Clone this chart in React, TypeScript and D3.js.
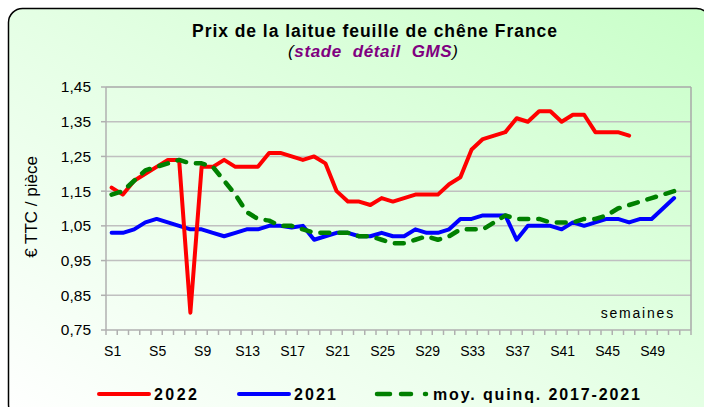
import React, { useEffect } from "react";
import * as d3 from "d3";

const weeks: string[] = Array.from({ length: 52 }, (_, i) => `S${i + 1}`);
const tickLabels: string[] = ["S1", "S5", "S9", "S13", "S17", "S21", "S25", "S29", "S33", "S37", "S41", "S45", "S49"];
const yTicks: number[] = [0.75, 0.85, 0.95, 1.05, 1.15, 1.25, 1.35, 1.45];

const series2022: number[] = [
  1.16, 1.14, 1.18, 1.2, 1.22, 1.24, 1.24, 0.8, 1.22, 1.22, 1.24, 1.22, 1.22, 1.22, 1.26, 1.26,
  1.25, 1.24, 1.25, 1.23, 1.15, 1.12, 1.12, 1.11, 1.13, 1.12, 1.13, 1.14, 1.14, 1.14, 1.17, 1.19,
  1.27, 1.3, 1.31, 1.32, 1.36, 1.35, 1.38, 1.38, 1.35, 1.37, 1.37, 1.32, 1.32, 1.32, 1.31,
];
const series2021: number[] = [
  1.03, 1.03, 1.04, 1.06, 1.07, 1.06, 1.05, 1.04, 1.04, 1.03, 1.02, 1.03, 1.04, 1.04, 1.05, 1.05,
  1.045, 1.05, 1.01, 1.02, 1.03, 1.03, 1.02, 1.02, 1.03, 1.02, 1.02, 1.04, 1.03, 1.03, 1.04, 1.07,
  1.07, 1.08, 1.08, 1.08, 1.01, 1.05, 1.05, 1.05, 1.04, 1.06, 1.05, 1.06, 1.07, 1.07, 1.06, 1.07,
  1.07, 1.1, 1.13,
];
const seriesAvg: number[] = [
  1.14, 1.15, 1.18, 1.21, 1.22, 1.23, 1.24, 1.23, 1.23, 1.22, 1.18, 1.14, 1.09, 1.07, 1.065, 1.05,
  1.05, 1.04, 1.03, 1.03, 1.03, 1.03, 1.02, 1.02, 1.01, 1.0, 1.0, 1.01, 1.02, 1.01, 1.02, 1.04,
  1.04, 1.04, 1.06, 1.08, 1.07, 1.07, 1.07, 1.06, 1.06, 1.06, 1.07, 1.07, 1.08, 1.1, 1.11, 1.12,
  1.13, 1.14, 1.15,
];

const W = 704;
const H = 407;
const FONT = "'Liberation Sans', Arial, sans-serif";

export default function App() {
  useEffect(() => {
    document.body.style.margin = "0";
  }, []);

  const left = 106, right = 691, top = 87, bottom = 330;
  const x = d3.scaleBand<string>().domain(weeks).range([left, right]).padding(0);
  const y = d3.scaleLinear().domain([0.75, 1.45]).range([bottom, top]);
  const cx = (i: number) => (x(weeks[i]) as number) + x.bandwidth() / 2;
  const line = d3
    .line<number>()
    .x((_, i) => cx(i))
    .y((d) => y(d));
  const fmt = (v: number) => d3.format(".2f")(v).replace(".", ",");

  return (
    <svg width={W} height={H} style={{ position: "absolute", left: 0, top: 0 }} fontFamily={FONT}>
      <defs>
        <linearGradient id="bg" x1="0" y1="1" x2="1" y2="0">
          <stop offset="0" stopColor="#ffffff" />
          <stop offset="0.55" stopColor="#e2ffe2" />
          <stop offset="1" stopColor="#c8ffc8" />
        </linearGradient>
      </defs>
      <rect x={8.5} y={8.5} width={702} height={410} rx={14} ry={14} fill="url(#bg)" stroke="#000" strokeWidth={1.5} />

      <text x={192} y={36.5} fontSize={17.5} fontWeight="bold" fill="#000" textLength={365} lengthAdjust="spacing">
        Prix de la laitue feuille de chêne France
      </text>
      <text x={288} y={57} fontSize={17} fontStyle="italic" fill="#000" textLength={170} lengthAdjust="spacing">
        (<tspan fill="#800080" fontWeight="bold">{"stade\u00a0 détail\u00a0 GMS"}</tspan>)
      </text>

      {/* grid */}
      {yTicks.slice(1, -1).map((t) => (
        <line key={t} x1={left} x2={right} y1={y(t)} y2={y(t)} stroke="#c0c0c0" strokeWidth={1.5} />
      ))}
      {/* plot border */}
      <line x1={left} x2={right} y1={top} y2={top} stroke="#a8a8a8" strokeWidth={1.5} />
      <line x1={right} x2={right} y1={top} y2={bottom} stroke="#a8a8a8" strokeWidth={1.5} />
      {/* axes */}
      <line x1={left} x2={left} y1={top} y2={bottom} stroke="#b0b0b0" strokeWidth={1.5} />
      <line x1={left} x2={right} y1={bottom} y2={bottom} stroke="#b0b0b0" strokeWidth={1.5} />
      {yTicks.map((t) => (
        <g key={t}>
          <line x1={left - 5} x2={left} y1={y(t)} y2={y(t)} stroke="#b0b0b0" strokeWidth={1.5} />
          <text x={91} y={y(t)} dy="0.35em" textAnchor="end" fontSize={15.5} fill="#000">
            {fmt(t)}
          </text>
        </g>
      ))}
      {weeks.map((w) => (
        <line key={w} x1={x(w) as number} x2={x(w) as number} y1={bottom} y2={bottom + 5} stroke="#b0b0b0" strokeWidth={1.5} />
      ))}
      <line x1={right} x2={right} y1={bottom} y2={bottom + 5} stroke="#b0b0b0" strokeWidth={1.5} />
      {tickLabels.map((w) => (
        <text key={w} x={(x(w) as number) + x.bandwidth() / 2 + 1} y={356} textAnchor="middle" fontSize={14} fill="#000">
          {w}
        </text>
      ))}

      <text x={675} y={318} textAnchor="end" fontSize={14} letterSpacing={1.8} fill="#000">
        semaines
      </text>

      <text transform={`translate(37,207) rotate(-90)`} textAnchor="middle" fontSize={17} fill="#000">
        € TTC / pièce
      </text>

      {/* series */}
      <path d={line(series2021) as string} fill="none" stroke="#0000ff" strokeWidth={4} strokeLinejoin="round" strokeLinecap="round" />
      <path d={line(series2022) as string} fill="none" stroke="#ff0000" strokeWidth={4} strokeLinejoin="round" strokeLinecap="round" />
      <path d={line(seriesAvg) as string} fill="none" stroke="#008000" strokeWidth={4.5} strokeLinejoin="round" strokeLinecap="round" strokeDasharray="9 10" />

      {/* legend */}
      <line x1={99} x2={149} y1={394} y2={394} stroke="#ff0000" strokeWidth={4} strokeLinecap="round" />
      <text x={154} y={400} fontSize={16} fontWeight="bold" fill="#000" textLength={43} lengthAdjust="spacing">2022</text>
      <line x1={239} x2={289} y1={394} y2={394} stroke="#0000ff" strokeWidth={4} strokeLinecap="round" />
      <text x={294} y={400} fontSize={16} fontWeight="bold" fill="#000" textLength={42} lengthAdjust="spacing">2021</text>
      <line x1={377} x2={390} y1={394} y2={394} stroke="#008000" strokeWidth={4.5} strokeLinecap="round" />
      <line x1={401} x2={411} y1={394} y2={394} stroke="#008000" strokeWidth={4.5} strokeLinecap="round" />
      <line x1={425} x2={426} y1={394} y2={394} stroke="#008000" strokeWidth={4.5} strokeLinecap="round" />
      <text x={433} y={400} fontSize={16} fontWeight="bold" fill="#000" textLength={207} lengthAdjust="spacing">moy. quinq. 2017-2021</text>
    </svg>
  );
}
